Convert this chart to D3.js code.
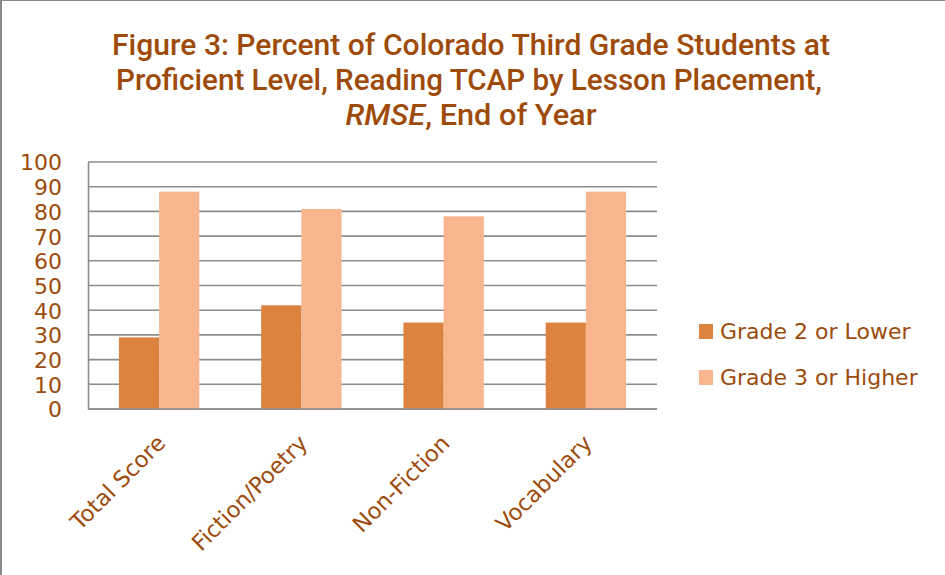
<!DOCTYPE html>
<html>
<head>
<meta charset="utf-8">
<script src="https://cdn.jsdelivr.net/npm/d3@7"></script>
<style>
  body { margin: 0; background: #fff; }
  svg { display: block; }
</style>
</head>
<body>
<div id="chart"></div>
<script>
// chart data
var categories = ["Total Score", "Fiction/Poetry", "Non-Fiction", "Vocabulary"];
var seriesNames = ["Grade 2 or Lower", "Grade 3 or Higher"];
var grade2Lower = [29, 42, 35, 35];
var grade3Higher = [88, 81, 78, 88];
var yTicks = [0, 10, 20, 30, 40, 50, 60, 70, 80, 90, 100];
var titleLines = ["Figure 3: Percent of Colorado Third Grade Students at",
                  "Proficient Level, Reading TCAP by Lesson Placement,",
                  ["RMSE", ", End of Year"]];

var W = 945, H = 575;
var margin = {top: 162, right: 288, bottom: 166, left: 88},
    width = W - margin.left - margin.right,
    height = H - margin.top - margin.bottom;

var textColor = "#9c4b0c";
var gridColor = "#8c8c8c";
var colors = ["#dc843f", "#f8b58e"];

var svg = d3.select("#chart")
            .append("svg")
            .attr("width", W)
            .attr("height", H);

// frame edges (left and top)
svg.append("line").attr("x1", 1).attr("x2", 1).attr("y1", 0).attr("y2", H)
   .attr("stroke", "#8a8a8a").attr("stroke-width", 2);
svg.append("line").attr("x1", 0).attr("x2", W).attr("y1", 0.5).attr("y2", 0.5)
   .attr("stroke", "#8a8a8a").attr("stroke-width", 1);

// title (condensed medium face, squeezed to the reference width)
var titleFont = "Roboto, 'Liberation Sans', sans-serif";
function titleText(x, yy, len) {
  return svg.append("text")
            .attr("x", x).attr("y", yy)
            .attr("text-anchor", "middle")
            .attr("textLength", len)
            .attr("lengthAdjust", "spacingAndGlyphs")
            .attr("fill", "#9e4b0a")
            .style("font-family", titleFont)
            .style("font-weight", 500)
            .style("font-size", "30px");
}
titleText(471, 55, 718).text(titleLines[0]);
titleText(469, 90, 706).text(titleLines[1]);
var l3 = titleText(471, 125, 251);
l3.append("tspan").style("font-style", "italic").text(titleLines[2][0]);
l3.append("tspan").text(titleLines[2][1]);

var g = svg.append("g")
           .attr("transform", `translate(${margin.left},${margin.top})`);

// scales
var x0 = d3.scaleBand()
           .domain(categories)
           .range([0, width]);

var x1 = d3.scaleBand()
           .domain(seriesNames)
           .range([0, x0.bandwidth() * 0.565])
           .padding(0);

var y = d3.scaleLinear()
          .domain([0, 100])
          .range([height, 0]);

// gridlines
g.append("g")
 .selectAll("line")
 .data(yTicks)
 .enter().append("line")
 .attr("x1", 0).attr("x2", width)
 .attr("y1", d => y(d)).attr("y2", d => y(d))
 .attr("stroke", gridColor)
 .attr("stroke-width", 1.6);

// y axis
var yAxis = d3.axisLeft(y).tickValues(yTicks).tickSize(0).tickPadding(26);
var yg = g.append("g").attr("class", "y axis").call(yAxis);
yg.select(".domain").attr("stroke", gridColor).attr("stroke-width", 1.6);
yg.selectAll("text")
  .attr("fill", textColor)
  .attr("dy", "0.36em")
  .style("font-family", "'DejaVu Sans', sans-serif")
  .style("font-size", "22px");

// bars
var data = categories.map((c, i) => ({
  name: c,
  values: [{key: seriesNames[0], value: grade2Lower[i]},
           {key: seriesNames[1], value: grade3Higher[i]}]
}));

var offset = (x0.bandwidth() - x1.range()[1]) / 2;

var grp = g.selectAll(".name")
           .data(data)
           .enter().append("g")
           .attr("class", "name")
           .attr("transform", d => `translate(${x0(d.name) + offset},0)`);

grp.selectAll("rect")
   .data(d => d.values)
   .enter().append("rect")
   .attr("x", d => x1(d.key))
   .attr("y", d => y(d.value))
   .attr("width", x1.bandwidth())
   .attr("height", d => height - y(d.value))
   .style("fill", (d, i) => colors[i]);

// x axis baseline
g.append("line")
 .attr("x1", 0).attr("x2", width)
 .attr("y1", height).attr("y2", height)
 .attr("stroke", gridColor)
 .attr("stroke-width", 1.6);

// x labels, rotated
g.append("g")
 .selectAll("text")
 .data(categories)
 .enter().append("text")
 .attr("transform", d => `translate(${x0(d) + x0.bandwidth() / 2 + 2},${height + 30}) rotate(-45)`)
 .attr("text-anchor", "end")
 .attr("dy", "0.35em")
 .attr("fill", textColor)
 .style("font-family", "'DejaVu Sans', sans-serif")
 .style("font-size", "22.5px")
 .text(d => d);

// legend
var legend = svg.append("g")
                .attr("transform", "translate(699,324)");
var item = legend.selectAll("g")
                 .data(seriesNames)
                 .enter().append("g")
                 .attr("transform", (d, i) => `translate(0,${i * 46})`);
item.append("rect")
    .attr("width", 14).attr("height", 15)
    .style("fill", (d, i) => colors[i]);
item.append("text")
    .attr("x", 21).attr("y", 15)
    .attr("fill", textColor)
    .style("font-family", "'DejaVu Sans', sans-serif")
    .style("font-size", "22px")
    .text(d => d);
</script>
</body>
</html>
